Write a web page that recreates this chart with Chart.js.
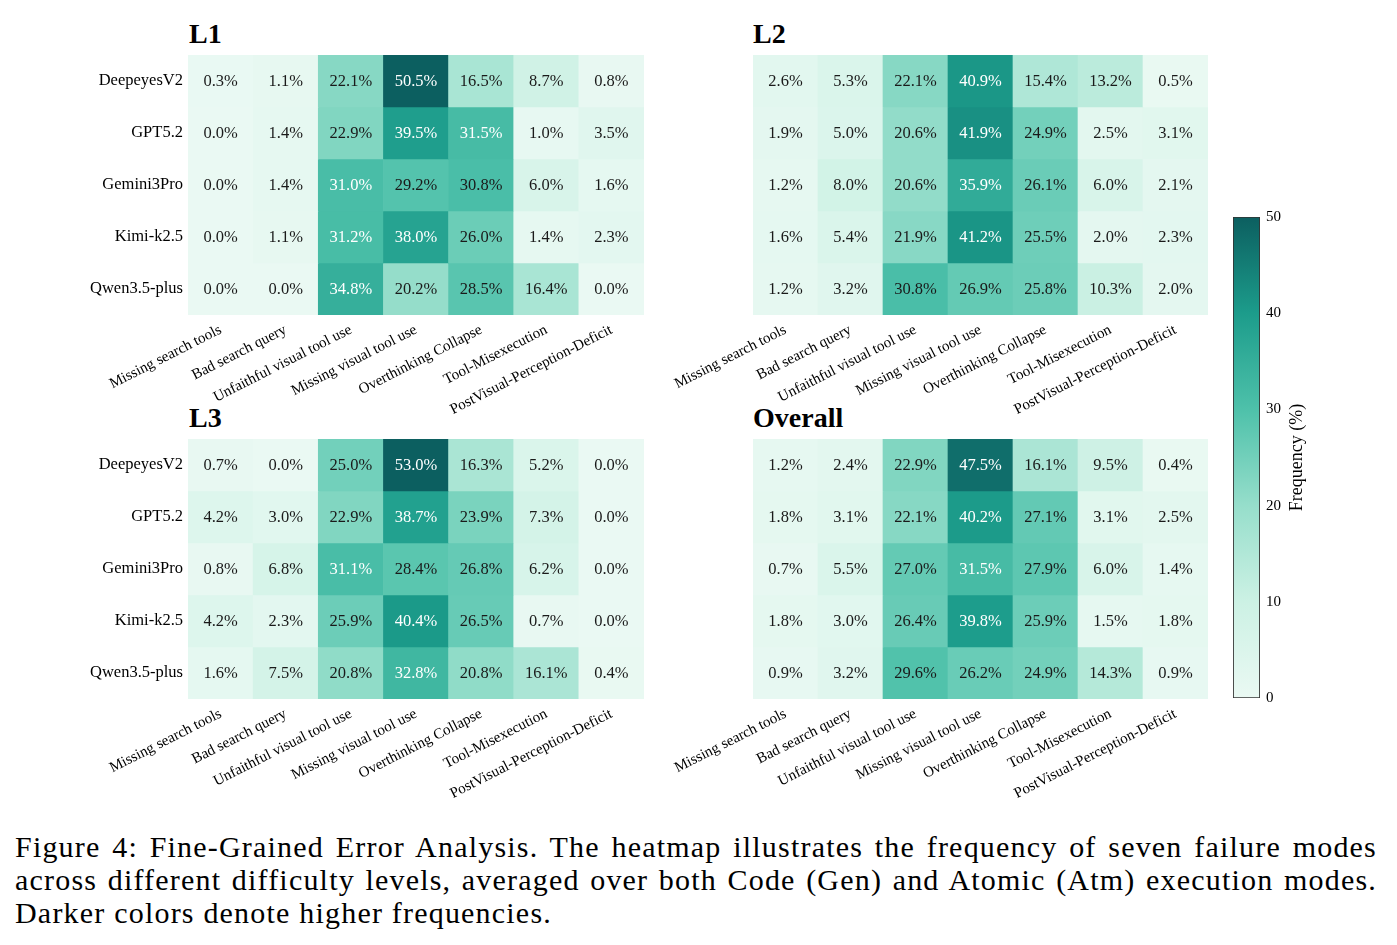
<!DOCTYPE html>
<html>
<head>
<meta charset="utf-8">
<script src="https://cdn.jsdelivr.net/npm/chart.js@4.4.1/dist/chart.umd.min.js"></script>
<style>
  body { margin: 0; background: #fff; width: 1397px; height: 945px; overflow: hidden; position: relative; font-family: "Liberation Serif", serif; }
  canvas { position: absolute; }
  .title { position: absolute; font-weight: bold; font-size: 28px; line-height: 1; color: #000; }
  #caption { position: absolute; left: 15px; top: 830px; width: 1362px; font-size: 30px; line-height: 33px; letter-spacing: 1.2px; color: #000; }
  #caption div { white-space: nowrap; }
  #caption .j { text-align: justify; text-align-last: justify; }
</style>
</head>
<body>
<div class="title" style="left:189px; top:20px">L1</div>
<div class="title" style="left:753px; top:20px">L2</div>
<div class="title" style="left:189px; top:404px">L3</div>
<div class="title" style="left:753px; top:404px">Overall</div>

<canvas id="l1" width="644" height="370" style="left:0; top:55px"></canvas>
<canvas id="l2" width="648" height="370" style="left:560px; top:55px"></canvas>
<canvas id="l3" width="644" height="370" style="left:0; top:439px"></canvas>
<canvas id="overall" width="648" height="370" style="left:560px; top:439px"></canvas>
<canvas id="colorbar" width="84" height="501" style="left:1233px; top:207px"></canvas>

<div id="caption">
  <div class="j">Figure 4: Fine-Grained Error Analysis. The heatmap illustrates the frequency of seven failure modes</div>
  <div class="j">across different difficulty levels, averaged over both Code (Gen) and Atomic (Atm) execution modes.</div>
  <div>Darker colors denote higher frequencies.</div>
</div>

<script>
const models = ["DeepeyesV2", "GPT5.2", "Gemini3Pro", "Kimi-k2.5", "Qwen3.5-plus"];
const failureModes = [
  "Missing search tools", "Bad search query", "Unfaithful visual tool use",
  "Missing visual tool use", "Overthinking Collapse", "Tool-Misexecution",
  "PostVisual-Perception-Deficit"
];

// one row per model, one column per failure mode (%)
const l1Values = [
  [0.3, 1.1, 22.1, 50.5, 16.5, 8.7, 0.8],
  [0.0, 1.4, 22.9, 39.5, 31.5, 1.0, 3.5],
  [0.0, 1.4, 31.0, 29.2, 30.8, 6.0, 1.6],
  [0.0, 1.1, 31.2, 38.0, 26.0, 1.4, 2.3],
  [0.0, 0.0, 34.8, 20.2, 28.5, 16.4, 0.0]
];
const l2Values = [
  [2.6, 5.3, 22.1, 40.9, 15.4, 13.2, 0.5],
  [1.9, 5.0, 20.6, 41.9, 24.9, 2.5, 3.1],
  [1.2, 8.0, 20.6, 35.9, 26.1, 6.0, 2.1],
  [1.6, 5.4, 21.9, 41.2, 25.5, 2.0, 2.3],
  [1.2, 3.2, 30.8, 26.9, 25.8, 10.3, 2.0]
];
const l3Values = [
  [0.7, 0.0, 25.0, 53.0, 16.3, 5.2, 0.0],
  [4.2, 3.0, 22.9, 38.7, 23.9, 7.3, 0.0],
  [0.8, 6.8, 31.1, 28.4, 26.8, 6.2, 0.0],
  [4.2, 2.3, 25.9, 40.4, 26.5, 0.7, 0.0],
  [1.6, 7.5, 20.8, 32.8, 20.8, 16.1, 0.4]
];
const overallValues = [
  [1.2, 2.4, 22.9, 47.5, 16.1, 9.5, 0.4],
  [1.8, 3.1, 22.1, 40.2, 27.1, 3.1, 2.5],
  [0.7, 5.5, 27.0, 31.5, 27.9, 6.0, 1.4],
  [1.8, 3.0, 26.4, 39.8, 25.9, 1.5, 1.8],
  [0.9, 3.2, 29.6, 26.2, 24.9, 14.3, 0.9]
];
const colorbarTicks = [0, 10, 20, 30, 40, 50];

const VMAX = 50;
const FONT = "Liberation Serif";

// teal colormap, sampled from the reference colorbar
const colorStops = [
  [0, [234, 249, 243]],
  [10, [204, 241, 228]],
  [20, [150, 222, 203]],
  [30, [78, 193, 170]],
  [40, [28, 156, 139]],
  [50, [12, 95, 96]]
];

function rgb(c) {
  return `rgb(${c.map(Math.round).join(",")})`;
}

function colorFor(v) {
  v = Math.max(0, Math.min(VMAX, v));
  for (let i = 1; i < colorStops.length; i++) {
    const [v0, c0] = colorStops[i - 1];
    const [v1, c1] = colorStops[i];
    if (v <= v1) {
      const t = (v - v0) / (v1 - v0);
      return rgb(c0.map((c, k) => c + (c1[k] - c) * t));
    }
  }
  return rgb(colorStops[colorStops.length - 1][1]);
}

// percentage text in the middle of each cell
const cellLabels = {
  id: "cellLabels",
  afterDatasetsDraw(chart) {
    const ctx = chart.ctx;
    ctx.save();
    ctx.font = `16.5px "${FONT}"`;
    ctx.textAlign = "center";
    ctx.textBaseline = "middle";
    chart.data.datasets.forEach((ds, di) => {
      chart.getDatasetMeta(di).data.forEach((bar, i) => {
        const v = ds.values[i];
        ctx.fillStyle = v > 30.9 ? "#ffffff" : "#1a1a1a";
        ctx.fillText(v.toFixed(1) + "%", bar.x, (bar.y + bar.base) / 2 + 1);
      });
    });
    ctx.restore();
  }
};

function noEdgePadding(s) {
  s.paddingTop = 0;
  s.paddingBottom = 0;
}

function makeHeatmap(id, values, showRows, yWidth) {
  return new Chart(document.getElementById(id), {
    type: "bar",
    data: {
      labels: failureModes,
      datasets: values.map((row, r) => ({
        label: models[r],
        values: row,
        data: row.map(() => [r, r + 1]),
        backgroundColor: row.map(colorFor),
        borderWidth: 0,
        grouped: false,
        barPercentage: 1,
        categoryPercentage: 1
      }))
    },
    options: {
      responsive: false,
      animation: false,
      devicePixelRatio: 1,
      layout: { padding: 0 },
      plugins: { legend: { display: false }, tooltip: { enabled: false } },
      scales: {
        x: {
          grid: { display: false, drawTicks: false },
          border: { display: false },
          ticks: {
            autoSkip: false,
            minRotation: 27,
            maxRotation: 27,
            padding: 6,
            color: "#000",
            font: { family: FONT, size: 15 }
          },
          afterFit(s) {
            s.height = 110;
            s.paddingLeft = 0;
            s.paddingRight = 0;
          }
        },
        y: {
          type: "linear",
          min: 0,
          max: models.length,
          reverse: true,
          grid: { display: false, drawTicks: false },
          border: { display: false },
          afterBuildTicks(s) { s.ticks = models.map((m, i) => ({ value: i + 0.5 })); },
          ticks: {
            display: showRows,
            padding: 5,
            color: "#000",
            font: { family: FONT, size: 16.5 },
            callback: (v, i) => models[i]
          },
          afterFit(s) {
            s.width = yWidth;
            noEdgePadding(s);
          }
        }
      }
    },
    plugins: [cellLabels]
  });
}

makeHeatmap("l1", l1Values, true, 188);
makeHeatmap("l2", l2Values, false, 193);
makeHeatmap("l3", l3Values, true, 188);
makeHeatmap("overall", overallValues, false, 193);

// colorbar
const colorbarTitle = {
  id: "colorbarTitle",
  afterDraw(chart) {
    const { ctx, chartArea } = chart;
    ctx.save();
    ctx.translate(chartArea.right + 37, (chartArea.top + chartArea.bottom) / 2);
    ctx.rotate(-Math.PI / 2);
    ctx.font = `18px "${FONT}"`;
    ctx.fillStyle = "#000";
    ctx.textAlign = "center";
    ctx.textBaseline = "middle";
    ctx.fillText("Frequency (%)", 0, 0);
    ctx.restore();
  }
};

new Chart(document.getElementById("colorbar"), {
  type: "bar",
  data: {
    labels: [""],
    datasets: [{
      data: [[colorbarTicks[0], colorbarTicks[colorbarTicks.length - 1]]],
      backgroundColor(c) {
        const area = c.chart.chartArea;
        if (!area || !isFinite(area.top) || area.bottom <= area.top) return colorFor(25);
        const g = c.chart.ctx.createLinearGradient(0, area.bottom, 0, area.top);
        colorStops.forEach(([v, col]) => g.addColorStop(v / VMAX, rgb(col)));
        return g;
      },
      borderColor: "#333",
      borderWidth: 1.2,
      borderSkipped: false,
      barPercentage: 1,
      categoryPercentage: 1
    }]
  },
  options: {
    responsive: false,
    animation: false,
    devicePixelRatio: 1,
    layout: { padding: { top: 10, bottom: 10 } },
    plugins: { legend: { display: false }, tooltip: { enabled: false } },
    scales: {
      x: { display: false },
      y: {
        position: "right",
        min: 0,
        max: VMAX,
        grid: { display: false, drawTicks: false },
        border: { display: false },
        afterBuildTicks(s) { s.ticks = colorbarTicks.map(v => ({ value: v })); },
        ticks: { padding: 6, color: "#000", font: { family: FONT, size: 15 } },
        afterFit(s) {
          s.width = 57;
          noEdgePadding(s);
        }
      }
    }
  },
  plugins: [colorbarTitle]
});
</script>
</body>
</html>
